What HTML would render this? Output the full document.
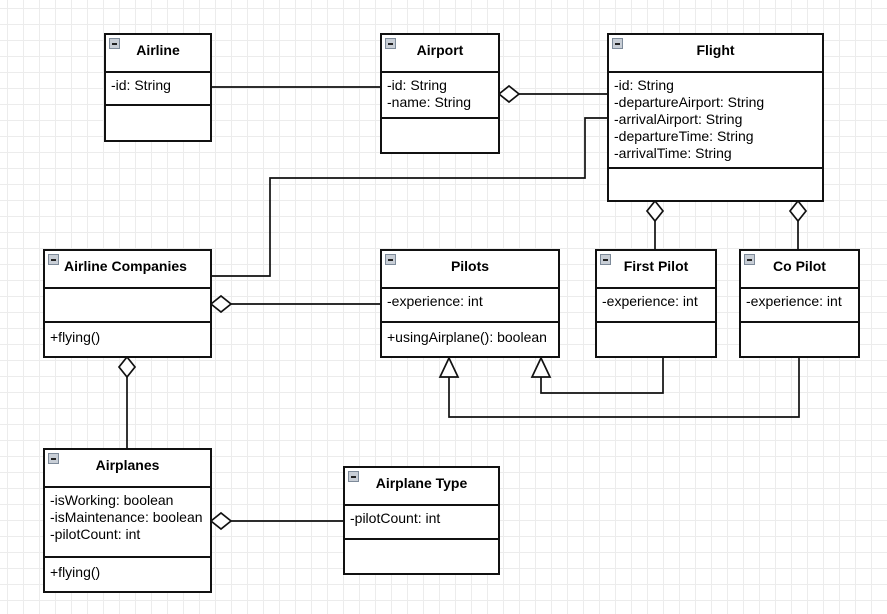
<!DOCTYPE html>
<html><head><style>
body{margin:0;width:887px;height:614px;overflow:hidden;background:#fff;
background-image:linear-gradient(#ececec 1px,transparent 1px),linear-gradient(90deg,#ececec 1px,transparent 1px);
background-size:16px 16px;background-position:7px 8px;font-family:"Liberation Sans",Arial,sans-serif;}
.b{position:absolute;border:2px solid #111;background:#fff;box-sizing:border-box;}
.h{position:absolute;left:0;right:0;top:0;border-bottom:2px solid #111;font-weight:bold;font-size:14px;text-align:center;box-sizing:border-box;padding-top:7px}
.s{position:absolute;left:0;right:0;border-bottom:2px solid #111;font-size:14px;line-height:17px;padding:6px 0 0 5px;box-sizing:border-box}
.i{position:absolute;left:3px;top:3px;width:9px;height:9px;background:#c8ced6;border:1px solid #7d8a99}
.i:after{content:"";position:absolute;left:2px;top:4px;width:5px;height:1.5px;background:#222}
svg{position:absolute;left:0;top:0}
</style></head><body>
<svg width="887" height="614" fill="none" stroke="#111" stroke-width="1.7">
<path d="M211 87H380"/>
<path d="M519 94H607"/><path d="M499 94l10-8 10 8-10 8z" fill="#fff"/>
<path d="M607 118H585V178H270V276H211"/>
<path d="M231 304H380"/><path d="M211 304l10-8 10 8-10 8z" fill="#fff"/>
<path d="M655 221V249"/><path d="M655 201l8 10-8 10-8-10z" fill="#fff"/>
<path d="M798 221V249"/><path d="M798 201l8 10-8 10-8-10z" fill="#fff"/>
<path d="M663 357V393H541V377"/><path d="M541 358l-9 19h18z" fill="#fff"/>
<path d="M799 357V417H449V377"/><path d="M449 358l-9 19h18z" fill="#fff"/>
<path d="M127 377V448"/><path d="M127 357l8 10-8 10-8-10z" fill="#fff"/>
<path d="M231 521H343"/><path d="M211 521l10-8 10 8-10 8z" fill="#fff"/>
</svg>
<div class="b" style="left:104px;top:33px;width:108px;height:109px"><div class="i"></div><div class="h" style="height:38px">Airline</div><div class="s" style="top:36px;height:35px">-id: String</div></div>
<div class="b" style="left:380px;top:33px;width:120px;height:121px"><div class="i"></div><div class="h" style="height:38px">Airport</div><div class="s" style="top:36px;height:48px">-id: String<br>-name: String</div></div>
<div class="b" style="left:607px;top:33px;width:217px;height:169px"><div class="i"></div><div class="h" style="height:38px">Flight</div><div class="s" style="top:36px;height:98px">-id: String<br>-departureAirport: String<br>-arrivalAirport: String<br>-departureTime: String<br>-arrivalTime: String</div></div>
<div class="b" style="left:43px;top:249px;width:169px;height:109px"><div class="i"></div><div class="h" style="height:38px;text-align:left;padding-left:19px">Airline Companies</div><div class="s" style="top:36px;height:36px"></div><div class="s" style="top:72px;border:none">+flying()</div></div>
<div class="b" style="left:380px;top:249px;width:180px;height:109px"><div class="i"></div><div class="h" style="height:38px">Pilots</div><div class="s" style="top:36px;height:36px">-experience: int</div><div class="s" style="top:72px;border:none">+usingAirplane(): boolean</div></div>
<div class="b" style="left:595px;top:249px;width:122px;height:109px"><div class="i"></div><div class="h" style="height:38px">First Pilot</div><div class="s" style="top:36px;height:36px">-experience: int</div></div>
<div class="b" style="left:739px;top:249px;width:121px;height:109px"><div class="i"></div><div class="h" style="height:38px">Co Pilot</div><div class="s" style="top:36px;height:36px">-experience: int</div></div>
<div class="b" style="left:43px;top:448px;width:169px;height:145px"><div class="i"></div><div class="h" style="height:38px">Airplanes</div><div class="s" style="top:36px;height:72px">-isWorking: boolean<br>-isMaintenance: boolean<br>-pilotCount: int</div><div class="s" style="top:108px;border:none">+flying()</div></div>
<div class="b" style="left:343px;top:466px;width:157px;height:109px"><div class="i"></div><div class="h" style="height:38px">Airplane Type</div><div class="s" style="top:36px;height:36px">-pilotCount: int</div></div>
</body></html>
